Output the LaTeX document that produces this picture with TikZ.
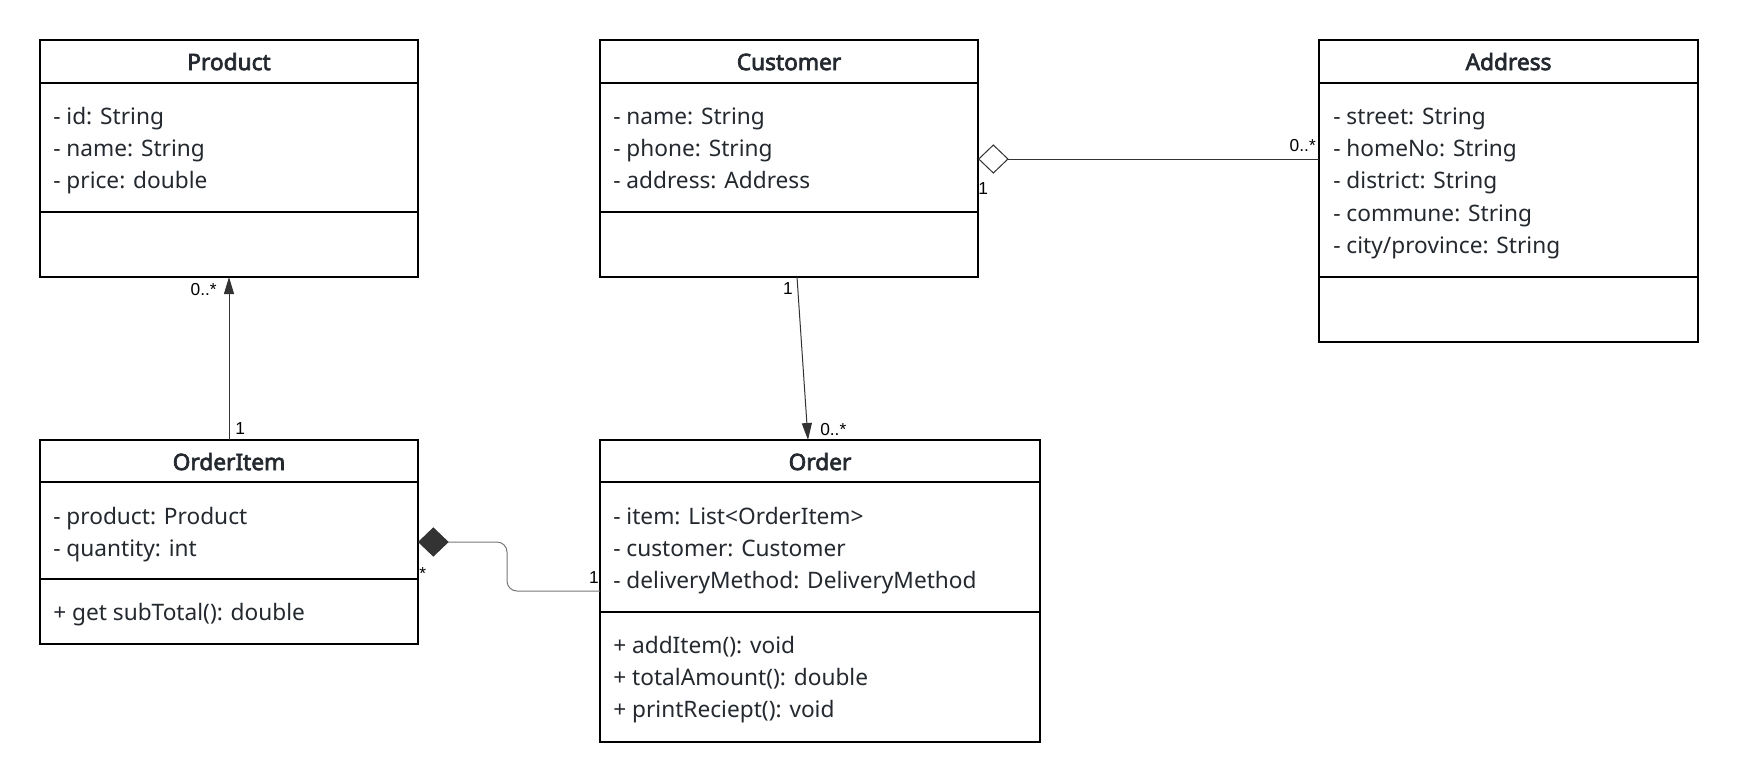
\documentclass[tikz,border=0pt]{standalone}
\usepackage{fontspec}
\setmainfont{Noto Sans}[BoldFont={Noto Sans}, BoldFeatures={FakeBold=3}]
\newfontfamily\multfont{Liberation Sans}
\usetikzlibrary{arrows.meta,fit}

\definecolor{ink}{HTML}{24292F}
\definecolor{wire}{HTML}{333333}
\definecolor{wiresoft}{HTML}{777777}

\begin{document}
\begin{tikzpicture}[x=0.75pt,y=-0.75pt,
  classbox/.style={draw=black, line width=1.5pt, inner sep=0pt, outer sep=0pt, rectangle},
  divider/.style={draw=black, line width=1.5pt},
  classname/.style={font=\bfseries\fontsize{17}{19}\selectfont, text=ink, inner sep=0pt,
    text height=12.1pt, text depth=0pt, anchor=center},
  member/.style={font=\fontsize{17}{19}\selectfont, text=ink, inner sep=0pt,
    text height=12.1pt, text depth=0pt, anchor=west},
  mult/.style={font=\multfont\fontsize{13}{14}\selectfont, text=black, inner sep=0pt,
    text height=9.3pt, text depth=0pt},
  assoc/.style={draw=wire, line width=0.75pt, -{Triangle[length=12.75pt,width=7.5pt]}},
  aggreg/.style={draw=wire, line width=0.75pt,
    -{Diamond[length=23pt,width=22pt,open,fill=white]}},
  compos/.style={draw=wiresoft, line width=0.75pt, rounded corners=7.5pt,
    -{Diamond[length=23pt,width=22pt,color=wire,fill=wire]}}
]
\useasboundingbox[fill=white] (0,0) rectangle (1738,783);

% ---------- Product ----------
\node[classbox, fit={(40,40) (418,277)}] (product) {};
\draw[divider] (product.west |- 0,83) -- (product.east |- 0,83);
\draw[divider] (product.west |- 0,212) -- (product.east |- 0,212);
\node[classname] (product-t) at (229,62) {Product};
\node[member] (product-a1) at (53,116) {- id: String};
\node[member] (product-a2) at (53,148.5) {- name: String};
\node[member] (product-a3) at (53,180.5) {- price: double};

% ---------- Customer ----------
\node[classbox, fit={(600,40) (978,277)}] (customer) {};
\draw[divider] (customer.west |- 0,83) -- (customer.east |- 0,83);
\draw[divider] (customer.west |- 0,212) -- (customer.east |- 0,212);
\node[classname] (customer-t) at (789,62) {Customer};
\node[member] (customer-a1) at (613,116) {- name: String};
\node[member] (customer-a2) at (613,148.5) {- phone: String};
\node[member] (customer-a3) at (613,180.5) {- address: Address};

% ---------- Address ----------
\node[classbox, fit={(1319,40) (1698,342)}] (address) {};
\draw[divider] (address.west |- 0,83) -- (address.east |- 0,83);
\draw[divider] (address.west |- 0,277) -- (address.east |- 0,277);
\node[classname] (address-t) at (1508.5,62) {Address};
\node[member] (address-a1) at (1333,116) {- street: String};
\node[member] (address-a2) at (1333,148.5) {- homeNo: String};
\node[member] (address-a3) at (1333,180.5) {- district: String};
\node[member] (address-a4) at (1333,213) {- commune: String};
\node[member] (address-a5) at (1333,245.5) {- city/province: String};

% ---------- OrderItem ----------
\node[classbox, fit={(40,440) (418,644)}] (orderitem) {};
\draw[divider] (orderitem.west |- 0,482) -- (orderitem.east |- 0,482);
\draw[divider] (orderitem.west |- 0,579) -- (orderitem.east |- 0,579);
\node[classname] (orderitem-t) at (229,462) {OrderItem};
\node[member] (orderitem-a1) at (53,516.5) {- product: Product};
\node[member] (orderitem-a2) at (53,548.5) {- quantity: int};
\node[member] (orderitem-m1) at (53,612.5) {+ get subTotal(): double};

% ---------- Order ----------
\node[classbox, fit={(600,440) (1040,742)}] (order) {};
\draw[divider] (order.west |- 0,482) -- (order.east |- 0,482);
\draw[divider] (order.west |- 0,612) -- (order.east |- 0,612);
\node[classname] (order-t) at (820,462) {Order};
\node[member] (order-a1) at (613,516.5) {- item: List<OrderItem>};
\node[member] (order-a2) at (613,548.5) {- customer: Customer};
\node[member] (order-a3) at (613,580.5) {- deliveryMethod: DeliveryMethod};
\node[member] (order-m1) at (613,645) {+ addItem(): void};
\node[member] (order-m2) at (613,677) {+ totalAmount(): double};
\node[member] (order-m3) at (613,709.5) {+ printReciept(): void};

% ---------- Relations ----------
% OrderItem refers to Product
\draw[assoc] (orderitem.north) -- (product.south);
\node[mult, anchor=east] (m-prod) at (217,289) {0..*};
\node[mult, anchor=west] (m-item-up) at (235,428) {1};

% Customer places Orders
\draw[assoc] (customer.south -| 797,0) -- (order.north -| 808,0);
\node[mult, anchor=east] (m-cust) at (793,288) {1};
\node[mult, anchor=west] (m-order) at (820,429) {0..*};

% Customer aggregates Address
\draw[aggreg] (address.west |- 0,159) -- (customer.east |- 0,159);
\node[mult, anchor=west] (m-cust-agg) at (978,188) {1};
\node[mult, anchor=east] (m-addr) at (1316,145) {0..*};

% Order is composed of OrderItems
\draw[compos] (order.west |- 0,591) -- (507,591) -- (507,542) -- (orderitem.east |- 0,542);
\node[mult, anchor=west] (m-items) at (419,573.5) {*};
\node[mult, anchor=east] (m-order-comp) at (599,577) {1};
\end{tikzpicture}
\end{document}
